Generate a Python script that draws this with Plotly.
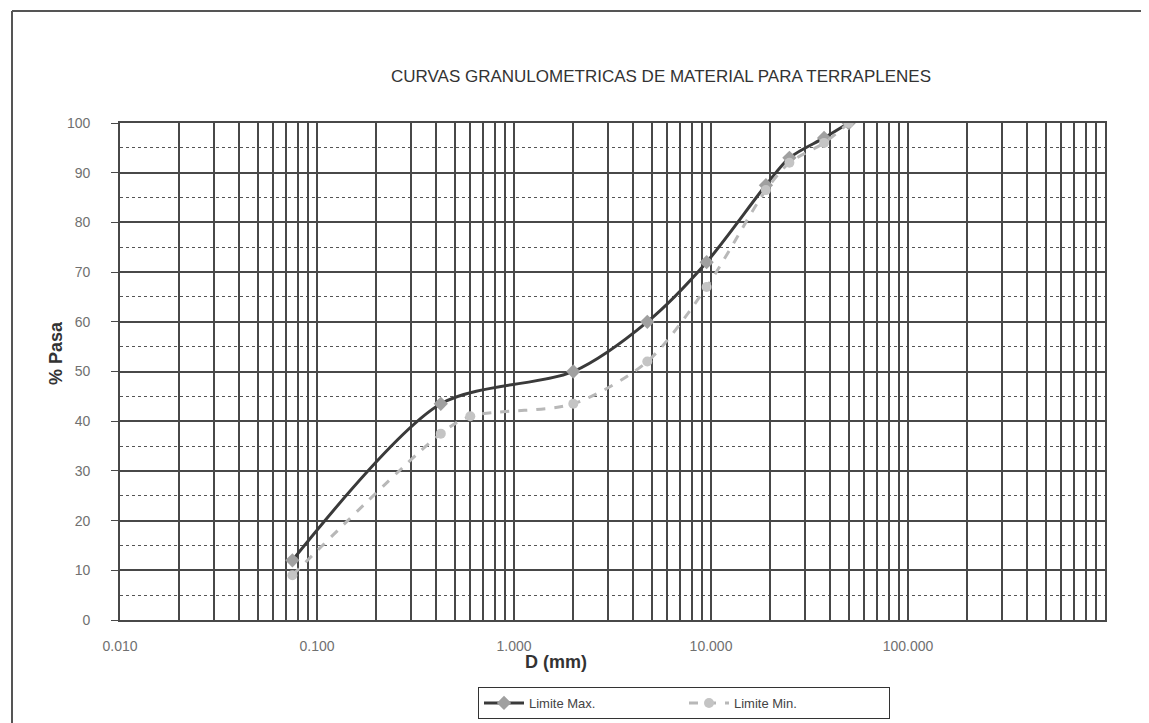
import plotly.graph_objects as go

# Data (sieve size in mm, % passing)
max_x = [0.075, 0.425, 2.0, 4.75, 9.5, 19.0, 25.0, 37.5, 50.0]
max_y = [12, 43.5, 50, 60, 72, 87.5, 93, 97, 100]
min_x = [0.075, 0.425, 0.6, 2.0, 4.75, 9.5, 19.0, 25.0, 37.5, 50.0]
min_y = [9, 37.5, 41, 43.5, 52, 67, 86.5, 92, 96, 100]

decade_vals = [0.01, 0.1, 1, 10, 100]
decade_text = ["0.010", "0.100", "1.000", "10.000", "100.000"]
y_ticks = list(range(0, 101, 10))

# all log grid positions 0.01 .. 1000
grid_vals = []
for e in range(-2, 3):
    for d in range(1, 10):
        grid_vals.append(round(d * 10 ** e, 6))
grid_vals.append(1000)
grid_text = []
for v in grid_vals:
    if v in decade_vals:
        grid_text.append(decade_text[decade_vals.index(v)])
    else:
        grid_text.append("")

W, H = 1149, 723
L, R, T, B = 112, 1097, 115, 612

fig = go.Figure()
fig.add_trace(go.Scatter(
    x=max_x, y=max_y, name="Limite Max.", mode="lines+markers",
    line=dict(color="#3a3a3a", width=3, shape="spline", smoothing=0.8),
    marker=dict(symbol="diamond", size=11, color="#a0a0a0"),
))
fig.add_trace(go.Scatter(
    x=min_x, y=min_y, name="Limite Min.", mode="lines+markers",
    line=dict(color="#b8b8b8", width=3, dash="dash", shape="spline", smoothing=0.8),
    marker=dict(symbol="circle", size=10, color="#c4c4c4"),
))

grid_col = "#484848"
fig.update_xaxes(
    type="log", range=[-2, 3], tickmode="array", tickvals=grid_vals, ticktext=grid_text,
    showgrid=True, gridcolor=grid_col, gridwidth=1.6,
    showline=True, linecolor=grid_col, linewidth=1.6, mirror=True,
    ticks="", ticklabelstandoff=12,
    tickfont=dict(family="Liberation Sans", size=14, color="#707070"),
    zeroline=False,
)
fig.update_yaxes(
    range=[0, 100], tickmode="array", tickvals=y_ticks,
    showgrid=True, gridcolor=grid_col, gridwidth=1.6,
    minor=dict(dtick=5, showgrid=True, gridcolor="#555555", gridwidth=1.2, griddash="dot"),
    showline=True, linecolor=grid_col, linewidth=1.6, mirror=True,
    ticks="outside", ticklen=7, tickcolor=grid_col, ticklabelstandoff=18,
    tickfont=dict(family="Liberation Sans", size=14, color="#707070"),
    zeroline=False,
)

pw = R - L
ph = B - T
fig.add_annotation(text="<b>D (mm)</b>", xref="paper", yref="paper",
                   x=(548 - L) / pw, y=(B - 666) / ph, showarrow=False,
                   font=dict(family="Liberation Sans", size=18, color="#333333"))
fig.add_annotation(text="<b>% Pasa</b>", xref="paper", yref="paper",
                   x=(36 - L) / pw, y=(B - 345) / ph, showarrow=False, textangle=-90,
                   font=dict(family="Liberation Sans", size=18, color="#333333"))

# chart-area frame (left and top edges visible in scan)
fig.add_shape(type="line", xref="paper", yref="paper",
              x0=(4 - L) / pw, x1=(4 - L) / pw, y0=(B - 723) / ph, y1=(B - 3) / ph,
              line=dict(color="#555555", width=2))
fig.add_shape(type="line", xref="paper", yref="paper",
              x0=(4 - L) / pw, x1=(1149 - L) / pw, y0=(B - 3) / ph, y1=(B - 3) / ph,
              line=dict(color="#555555", width=2))

fig.update_layout(
    width=W, height=H,
    margin=dict(l=L, r=W - R, t=T, b=H - B),
    paper_bgcolor="white", plot_bgcolor="white",
    title=dict(text="CURVAS GRANULOMETRICAS DE MATERIAL PARA TERRAPLENES",
               x=653 / W, y=1 - 68 / H, xanchor="center", yanchor="middle",
               font=dict(family="Liberation Sans", size=17, color="#333333")),
    legend=dict(orientation="h", x=(676 - L) / pw, y=(B - 695) / ph,
                xanchor="center", yanchor="middle",
                bordercolor="#333333", borderwidth=1, bgcolor="white",
                font=dict(family="Liberation Sans", size=13, color="#444444"),
                itemwidth=40, entrywidth=150),
    showlegend=True,
)

fig.write_html("out.html")
